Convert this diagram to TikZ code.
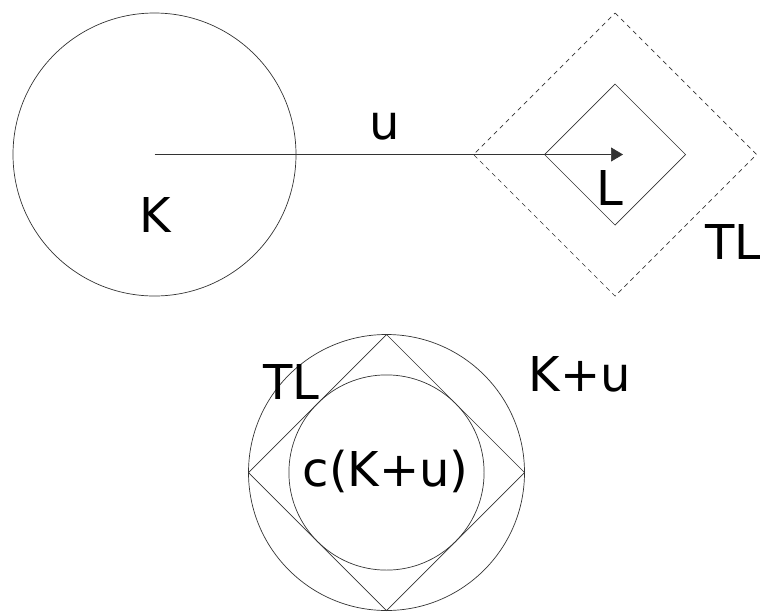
\documentclass[tikz,border=0pt]{standalone}
\usepackage{fontspec}
\setmainfont{DejaVu Sans}
\usetikzlibrary{arrows.meta}
\begin{document}
\begin{tikzpicture}[x=1pt,y=-1pt,
  shape line/.style={draw=black!80,line width=0.7pt},
  dash line/.style={shape line,dash pattern=on 4.5pt off 4pt},
  lbl/.style={font=\fontsize{48}{48}\selectfont,inner sep=0pt,anchor=base west}]
\useasboundingbox (0,0) rectangle (760,611);
% top part
\coordinate (Kc) at (154.5,154.5);
\coordinate (Lc) at (615,154.5);
\coordinate (tip) at (623,154.5);
\draw[shape line] (Kc) circle[radius=141.5];
\draw[dash line] (Lc) ++(0,-141.5) -- ++(141.5,141.5) -- ++(-141.5,141.5) -- ++(-141.5,-141.5) -- cycle;
\draw[shape line] (Lc) ++(0,-70.5) -- ++(70.5,70.5) -- ++(-70.5,70.5) -- ++(-70.5,-70.5) -- cycle;
\draw[shape line,-{Triangle[length=12pt,width=14pt]}] (Kc) -- (tip);
\node[lbl,anchor=base] (K) at (155.5,232) {K};
\node[lbl,anchor=base] (u) at (384.5,139) {u};
\node[lbl] (L) at (596.5,205) {L};
\node[lbl] (TL1) at (705,259) {TL};
% bottom part
\coordinate (Bc) at (386.5,472.5);
\draw[shape line] (Bc) circle[radius=138];
\draw[shape line] (Bc) circle[radius=97.6];
\draw[shape line] (Bc) ++(0,-138) -- ++(138,138) -- ++(-138,138) -- ++(-138,-138) -- cycle;
\node[lbl] (TL2) at (263,399) {TL};
\node[lbl] (Ku) at (528.5,391) {K+u};
\node[lbl] (cKu) at (302.5,486) {c(K+u)};
\end{tikzpicture}
\end{document}
